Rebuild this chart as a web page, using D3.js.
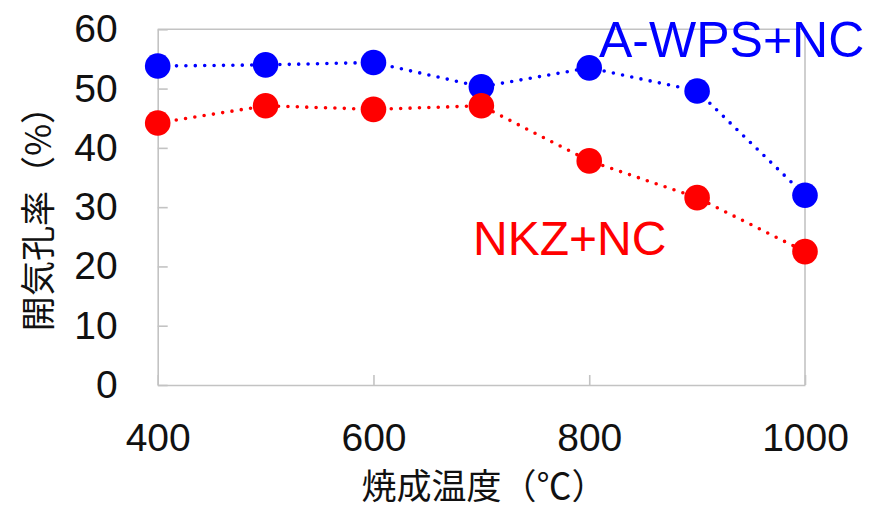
<!DOCTYPE html>
<html>
<head>
<meta charset="utf-8">
<script src="https://cdn.jsdelivr.net/npm/d3@7/dist/d3.min.js"></script>
<style>
  html, body { margin: 0; padding: 0; background: #fff; }
  svg { display: block; }
</style>
</head>
<body>
<svg id="chart" width="872" height="510"></svg>
<script>
const temperatures = [400, 500, 600, 700, 800, 900, 1000];
const awpsValues = [53.8, 54.0, 54.4, 50.3, 53.5, 49.6, 32.0];
const nkzValues = [44.2, 47.1, 46.5, 47.1, 37.8, 31.6, 22.5];
const xTicks = [400, 600, 800, 1000];
const yTicks = [0, 10, 20, 30, 40, 50, 60];
const seriesNames = ["A-WPS+NC", "NKZ+NC"];
const xTitle = "焼成温度（℃）";
const yTitle = "開気孔率（%）";

(function () {
const svg = d3.select("#chart");
const pL = 157.7, pR = 805, pT = 29.3, pB = 385;
const x = d3.scaleLinear().domain([400, 1000]).range([pL, pR]);
const y = d3.scaleLinear().domain([0, 60]).range([pB, pT]);
const axisColor = "#c3c3c3";
const latin = "'Liberation Sans', Arial, sans-serif";
const cjk = "'Noto Sans CJK JP', 'Noto Sans CJK SC', sans-serif";

// frame top/right
svg.append("line").attr("x1", pL).attr("x2", pR).attr("y1", pT).attr("y2", pT)
  .attr("stroke", axisColor).attr("stroke-width", 1.6);
svg.append("line").attr("x1", pR).attr("x2", pR).attr("y1", pT).attr("y2", pB)
  .attr("stroke", axisColor).attr("stroke-width", 1.6);

const yAxis = svg.append("g").attr("transform", `translate(${pL},0)`)
  .call(d3.axisLeft(y).tickValues(yTicks).tickFormat(d3.format("d"))
    .tickSizeInner(-10).tickSizeOuter(0).tickPadding(40));
const xAxis = svg.append("g").attr("transform", `translate(0,${pB})`)
  .call(d3.axisBottom(x).tickValues(xTicks).tickFormat(d3.format("d"))
    .tickSizeInner(-10).tickSizeOuter(0).tickPadding(38.5));
[yAxis, xAxis].forEach(g => {
  g.select(".domain").attr("stroke", axisColor).attr("stroke-width", 1.6);
  g.selectAll(".tick line").attr("stroke", axisColor).attr("stroke-width", 1.6);
  g.selectAll(".tick text").attr("fill", "#111").attr("font-family", latin).attr("font-size", 39);
});

function drawSeries(vals, color) {
  const pts = temperatures.map((t, i) => [t, vals[i]]);
  const line = d3.line().x(d => x(d[0])).y(d => y(d[1]));
  svg.append("path").datum(pts).attr("d", line).attr("fill", "none")
    .attr("stroke", color).attr("stroke-width", 3.6)
    .attr("stroke-linecap", "round").attr("stroke-dasharray", "0 9.4");
  svg.append("g").selectAll("circle").data(pts).join("circle")
    .attr("cx", d => x(d[0])).attr("cy", d => y(d[1])).attr("r", 12.8)
    .attr("fill", color);
}
drawSeries(awpsValues, "#0000ff");
drawSeries(nkzValues, "#ff0000");

svg.append("text").attr("x", 599).attr("y", 56.7).attr("fill", "#0000ff")
  .attr("font-family", latin).attr("font-size", 50).text(seriesNames[0]);
svg.append("text").attr("x", 473).attr("y", 255).attr("fill", "#ff0000")
  .attr("font-family", latin).attr("font-size", 48).text(seriesNames[1]);

svg.append("text").attr("x", 484).attr("y", 499).attr("text-anchor", "middle")
  .attr("fill", "#111").attr("font-family", cjk).attr("font-size", 35).text(xTitle);
svg.append("text").attr("transform", "translate(51,210) rotate(-90)").attr("text-anchor", "middle")
  .attr("fill", "#111").attr("font-family", cjk).attr("font-size", 35).text(yTitle);
})();
</script>
</body>
</html>
